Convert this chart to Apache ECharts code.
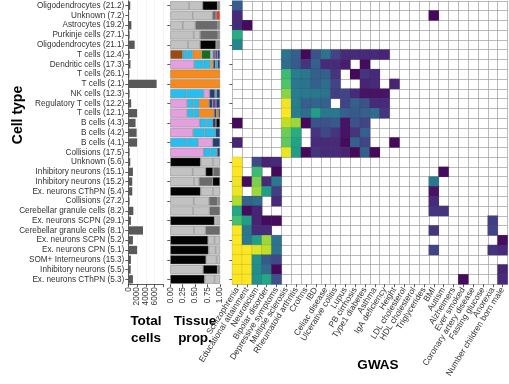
<!DOCTYPE html>
<html><head><meta charset="utf-8">
<script src="https://cdn.jsdelivr.net/npm/echarts@6/dist/echarts.min.js"></script>
<style>html,body{margin:0;padding:0;background:#fff}#c{width:509px;height:384px}</style>
</head><body><div id="c"></div>
<script>
const _ = null;
const cellTypes = ['Oligodendrocytes (21.2)','Unknown (7.2)','Astrocytes (19.2)','Purkinje cells (27.1)','Oligodendrocytes (21.1)','T cells (12.4)','Dendritic cells (17.3)','T cells (26.1)','T cells (2.1)','NK cells (12.3)','Regulatory T cells (12.2)','T cells (12.1)','B cells (4.3)','B cells (4.2)','B cells (4.1)','Collisions (17.5)','Unknown (5.6)','Inhibitory neurons (15.1)','Inhibitory neurons (15.2)','Ex. neurons CThPN (5.4)','Collisions (27.2)','Cerebellar granule cells (8.2)','Ex. neurons SCPN (29.1)','Cerebellar granule cells (8.1)','Ex. neurons SCPN (5.2)','Ex. neurons CPN (5.1)','SOM+ Interneurons (15.3)','Inhibitory neurons (5.5)','Ex. neurons CThPN (5.3)'];

const totalCells = [450,200,700,300,1450,350,500,250,6450,300,650,2000,1650,1900,2000,300,450,1050,900,900,300,1150,600,3350,1050,2000,600,550,1050];
const totalTicks = [0,2000,4000,6000];
const propTicks = ['0.00','0.25','0.50','0.75','1.00'];

const gwasTraits = ['Schizophrenia','Educational attainment','Neuroticism','Bipolar disorder','Depressive symptoms','Multiple sclerosis','Rheumatoid arthritis','Crohns','IBD','Celiac disease','Ulcerative colitis','Lupus','PB cirrhosis','Type1 diabetes','Asthma','IgA deficiency','Height','LDL cholesterol','HDL cholesterol','Triglycerides','BMI','Autism','Alzheimers','Ever smoked','Coronary artery disease','Fasting glucose','Anorexia','Number children born male'];

// tissue segments per cell type (colour key, proportion)
const tissueKeys = [
 ['lg','lg','k','g'], ['lg','lg','dg','red'], ['lg','lg','dg','g'], ['lg','lg','dg','g'], ['lg','lg','k','g'],
 ['brown','sky','sky','orange','green','pale','navy','purple','navy'],
 ['pink','sky','sky','tan','navy','sky','navy'],
 ['orange'], ['orange'],
 ['sky','sky','pink','navy','sky','navy'],
 ['pink','sky','sky','orange','navy','purple','navy'],
 ['pink','sky','sky','orange','navy','orange','k'],
 ['pink','sky','sky','navy','k'],
 ['pink','sky','sky','navy'],
 ['sky','sky','pink','navy'],
 ['pink','sky','sky','navy'],
 ['k','lg','lg'], ['lg','lg','k','dg'], ['lg','lg','dg','k'], ['k','lg','lg'], ['lg','lg','dg','g'],
 ['lg','lg','dg'], ['k','lg','lg'], ['lg','lg','dg'], ['k','lg','lg'], ['k','lg','lg'], ['k','lg','lg'],
 ['lg','k','g'], ['k','lg','lg']
];
const tissueProps = [
 [0.38,0.27,0.30,0.05], [0.45,0.40,0.07,0.08], [0.25,0.255,0.45,0.045], [0.47,0.13,0.36,0.04], [0.36,0.24,0.32,0.08],
 [0.25,0.10,0.10,0.18,0.18,0.05,0.04,0.05,0.05],
 [0.48,0.19,0.13,0.06,0.05,0.04,0.05],
 [1.0], [1.0],
 [0.32,0.35,0.12,0.11,0.03,0.07],
 [0.34,0.12,0.12,0.20,0.07,0.07,0.08],
 [0.34,0.12,0.12,0.30,0.05,0.04,0.03],
 [0.59,0.13,0.13,0.07,0.08],
 [0.46,0.23,0.22,0.09],
 [0.32,0.24,0.29,0.15],
 [0.67,0.14,0.13,0.06],
 [0.61,0.25,0.14], [0.45,0.26,0.15,0.14], [0.48,0.10,0.27,0.15], [0.61,0.25,0.14], [0.47,0.31,0.17,0.05],
 [0.46,0.33,0.21], [0.89,0.06,0.05], [0.48,0.23,0.29], [0.76,0.13,0.11], [0.77,0.14,0.09], [0.72,0.21,0.07],
 [0.66,0.29,0.05], [0.69,0.20,0.11]
];
const tissuePalette = {lg:'#c2c2c2', k:'#030303', dg:'#6b6b6b', g:'#8d8d8d', red:'#d4452e', brown:'#9b4a10', sky:'#27bef0', orange:'#f68a1e', green:'#1b6b1f', pale:'#b4c6de', navy:'#213f6f', purple:'#6b3c9b', tan:'#d8a13e', pink:'#e39fe0'};

// GWAS enrichment (0..1 on viridis scale), null = not significant
const gwasBrain = [
 [0.30,_,_,_,_],[0.12,_,_,_,_],[0.12,0.03,_,_,_],[0.62,_,_,_,_],[0.45,_,_,_,_],
 [_,_,_,_,_],[_,_,_,_,_],[_,_,_,_,_],[_,_,_,_,_],[_,_,_,_,_],[_,_,_,_,_],[_,_,_,_,_],
 [0.02,_,_,_,_],[_,_,_,_,_],[0.10,_,_,_,_],[_,_,_,_,_],
 [1.00,_,0.22,0.10,0.12],[1.00,_,0.68,_,0.02],[0.98,0.03,0.80,0.12,0.40],[0.97,_,0.85,0.55,0.18],
 [0.88,0.32,0.35,_,0.12],[0.60,0.03,0.10,_,_],[0.70,0.55,0.10,0.03,0.03],[1.00,0.40,0.12,0.12,_],
 [1.00,0.40,0.55,0.85,0.38],[1.00,1.00,0.95,0.90,0.38],[1.00,1.00,0.50,0.28,0.22],[1.00,1.00,0.48,0.35,0.02],
 [1.00,1.00,0.50,0.60,0.25]
];
const E11 = [_,_,_,_,_,_,_,_,_,_,_];
const gwasImmune = [
 E11,E11,E11,E11,E11,
 [0.38,0.30,0.02,0.25,0.38,0.20,0.12,0.12,0.12,0.12,0.10],
 [0.35,0.28,0.15,0.30,0.12,0.12,0.08,_,0.03,_,_],
 [0.68,0.42,0.40,0.30,0.30,0.15,_,0.02,0.15,0.12,_],
 [0.72,0.40,0.38,0.30,0.35,0.20,_,_,0.10,0.12,_],
 [0.82,0.42,0.40,0.40,0.38,0.18,0.20,0.12,0.05,0.05,0.05],
 [0.98,0.42,0.30,0.32,0.30,_,0.20,0.30,0.25,0.12,0.12],
 [1.00,0.42,0.35,0.55,0.40,0.40,0.30,0.28,0.30,0.35,0.15],
 [0.90,0.85,0.02,0.25,0.25,0.28,0.05,0.25,0.20,_,_],
 [0.78,0.62,_,0.15,0.22,0.15,0.05,0.15,0.30,_,_],
 [0.75,0.58,_,0.12,0.12,0.12,0.03,0.30,0.20,_,_],
 [0.97,0.55,0.02,0.15,0.12,0.12,0.10,0.02,0.30,0.02,_],
 E11,E11,E11,E11,E11,E11,E11,E11,E11,E11,E11,E11,E11
];
const E12 = [_,_,_,_,_,_,_,_,_,_,_,_];
const gwasOther = [
 E12,
 [_,_,_,_,0.02,_,_,_,_,_,_,_],
 E12,E12,E12,E12,E12,E12,
 [0.10,_,_,_,_,_,_,_,_,_,_,_],
 E12,E12,E12,E12,E12,
 [0.02,_,_,_,_,_,_,_,_,_,_,_],
 E12,E12,
 [_,_,_,_,_,0.03,_,_,_,_,_,_],
 [_,_,_,_,0.40,_,_,_,_,_,_,_],
 [_,_,_,_,0.05,_,_,_,_,_,_,_],
 [_,_,_,_,0.12,_,_,_,_,_,_,_],
 [_,_,_,_,0.15,0.15,_,_,_,_,_,_],
 [_,_,_,_,_,_,_,_,_,_,0.18,_],
 [_,_,_,_,0.15,_,_,_,_,_,0.20,_],
 [_,_,_,_,_,_,_,_,_,_,_,0.03],
 [_,_,_,_,0.20,_,_,_,_,_,0.15,0.12],
 E12,
 [_,_,_,_,_,_,_,_,_,_,_,0.10],
 [_,_,_,_,_,_,_,0.03,_,_,_,0.12]
];
const viridis = ['#440154','#482475','#414487','#355f8d','#2a788e','#21918c','#22a884','#44bf70','#7ad151','#bddf26','#fde725'];

// ---- build series ----
const FONT = '"Liberation Sans", Arial, Helvetica, sans-serif';
const heatData = [];
cellTypes.forEach((ct, r) => {
  const row = gwasBrain[r].concat(gwasImmune[r], gwasOther[r]);
  row.forEach((v, c) => { if (v !== null) heatData.push([c, r, v]); });
});
const maxSeg = Math.max(...tissueKeys.map(k => k.length));
const tissueSeries = [];
for (let i = 0; i < maxSeg; i++) {
  tissueSeries.push({
    type: 'bar', xAxisIndex: 1, yAxisIndex: 1, stack: 'tissue', barWidth: '92%',
    itemStyle: {borderColor: '#7c7c7c', borderWidth: 0.5},
    data: cellTypes.map((ct, r) => i < tissueKeys[r].length
      ? {value: tissueProps[r][i], itemStyle: {color: tissuePalette[tissueKeys[r][i]]}}
      : {value: 0, itemStyle: {color: 'rgba(0,0,0,0)', borderWidth: 0}}),
    silent: true, animation: false
  });
}

const gTop = 0.8, gH = 283.4;
const labelStyle = {fontFamily: FONT, fontSize: 8.2, color: '#333'};
const option = {
  animation: false,
  grid: [
    {left: 128.3, width: 34.7, top: gTop, height: gH},
    {left: 170.3, width: 49.7, top: gTop, height: gH},
    {left: 232.3, width: 275.2, top: gTop, height: gH}
  ],
  xAxis: [
    {type: 'value', gridIndex: 0, min: 0, max: 7900, interval: 2000,
     axisLine: {show: true, lineStyle: {color: '#333', width: 0.8}},
     axisTick: {show: true, length: 3, lineStyle: {color: '#333', width: 0.8}},
     axisLabel: Object.assign({rotate: 90, margin: 3, formatter: v => totalTicks.includes(v) ? String(v) : ''}, labelStyle),
     splitLine: {show: true, lineStyle: {color: '#ececec', width: 0.6}}},
    {type: 'value', gridIndex: 1, min: 0, max: 1, interval: 0.25,
     axisLine: {show: false},
     axisTick: {show: true, length: 3, lineStyle: {color: '#333', width: 0.8}},
     axisLabel: Object.assign({rotate: 90, margin: 3, formatter: v => propTicks[Math.round(v * 4)]}, labelStyle),
     splitLine: {show: false}},
    {type: 'category', gridIndex: 2, data: gwasTraits,
     axisLine: {show: false},
     axisTick: {show: true, alignWithLabel: true, length: 3, lineStyle: {color: '#333', width: 0.8}},
     axisLabel: Object.assign({}, labelStyle, {rotate: 58, interval: 0, margin: 4, fontSize: 8.5}),
     splitLine: {show: true, interval: 0, lineStyle: {color: '#a8a8a8', width: 0.8}}}
  ],
  yAxis: [
    {type: 'category', gridIndex: 0, data: cellTypes, inverse: true,
     axisLine: {show: true, lineStyle: {color: '#333', width: 0.8}},
     axisTick: {show: true, alignWithLabel: true, length: 3, lineStyle: {color: '#333', width: 0.8}},
     axisLabel: Object.assign({interval: 0, margin: 4}, labelStyle),
     splitLine: {show: false}},
    {type: 'category', gridIndex: 1, data: cellTypes, inverse: true,
     axisLine: {show: false},
     axisTick: {show: true, alignWithLabel: true, length: 3, lineStyle: {color: '#333', width: 0.8}},
     axisLabel: {show: false}, splitLine: {show: false}},
    {type: 'category', gridIndex: 2, data: cellTypes, inverse: true,
     axisLine: {show: false},
     axisTick: {show: true, alignWithLabel: true, length: 3, lineStyle: {color: '#333', width: 0.8}},
     axisLabel: {show: false},
     splitLine: {show: true, interval: 0, lineStyle: {color: '#a8a8a8', width: 0.8}}}
  ],
  visualMap: {type: 'continuous', min: 0, max: 1, show: false, seriesIndex: 1, inRange: {color: viridis}},
  series: [
    {type: 'bar', xAxisIndex: 0, yAxisIndex: 0, data: totalCells, barWidth: '85%',
     itemStyle: {color: '#595959'}, silent: true},
    {type: 'heatmap', xAxisIndex: 2, yAxisIndex: 2, data: heatData,
     itemStyle: {borderColor: 'rgba(60,60,60,0.25)', borderWidth: 0.5}, silent: true}
  ].concat(tissueSeries),
  graphic: [
    {type: 'text', x: 18.5, y: 115, rotation: Math.PI / 2,
     style: {text: 'Cell type', font: 'bold 14px ' + FONT, fill: '#000', align: 'center', verticalAlign: 'middle'}},
    {type: 'text', x: 146, y: 313,
     style: {text: 'Total\ncells', font: 'bold 13.5px ' + FONT, fill: '#000', align: 'center', verticalAlign: 'top', lineHeight: 17}},
    {type: 'text', x: 195, y: 313,
     style: {text: 'Tissue\nprop.', font: 'bold 13.5px ' + FONT, fill: '#000', align: 'center', verticalAlign: 'top', lineHeight: 17}},
    {type: 'text', x: 378, y: 365,
     style: {text: 'GWAS', font: 'bold 13.5px ' + FONT, fill: '#000', align: 'center', verticalAlign: 'middle'}}
  ]
};
const chart = echarts.init(document.getElementById('c'));
chart.setOption(option);
</script>
</body></html>
